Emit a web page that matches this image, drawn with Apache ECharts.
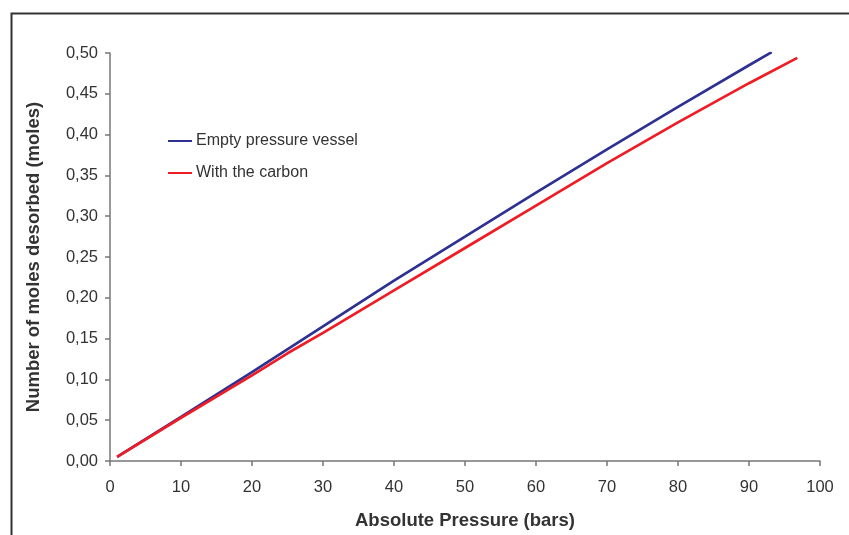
<!DOCTYPE html>
<html>
<head>
<meta charset="utf-8">
<script src="https://cdn.jsdelivr.net/npm/echarts@6/dist/echarts.min.js"></script>
<style>html,body{margin:0;padding:0;background:#fff}#c{width:849px;height:535px}</style>
</head>
<body>
<div id="c"></div>
<script>
const xTicks = [0, 10, 20, 30, 40, 50, 60, 70, 80, 90, 100];
const emptyPressure = [1, 10, 20, 30, 40, 50, 60, 70, 80, 90, 93.2];
const emptyMoles = [0.005, 0.054, 0.109, 0.165, 0.221, 0.275, 0.329, 0.382, 0.434, 0.485, 0.501];
const carbonPressure = [1, 10, 20, 25, 30, 40, 50, 60, 70, 80, 90, 96.8];
const carbonMoles = [0.005, 0.053, 0.105, 0.132, 0.157, 0.209, 0.261, 0.313, 0.365, 0.415, 0.463, 0.494];
const seriesNames = ['Empty pressure vessel', 'With the carbon'];

const chart = echarts.init(document.getElementById('c'), null, {renderer: 'canvas'});
const font = 'Liberation Sans, Arial, Helvetica, sans-serif';
const axisColor = '#777';
chart.setOption({
  animation: false,
  textStyle: {fontFamily: font},
  graphic: [{
    type: 'rect', left: 9, top: 11,
    shape: {width: 900, height: 600},
    style: {fill: 'none', stroke: '#333', lineWidth: 2}, silent: true
  }],
  grid: {left: 110, right: 29, top: 53, bottom: 74, containLabel: false},
  legend: {
    orient: 'vertical', left: 168, top: 133, padding: 0,
    icon: 'rect', itemWidth: 24, itemHeight: 2, itemGap: 16,
    textStyle: {fontSize: 16, color: '#333', fontFamily: font, padding: [0, 0, 0, -1]},
    data: seriesNames
  },
  xAxis: {
    type: 'value', min: 0, max: 100, interval: 10,
    name: 'Absolute Pressure (bars)', nameLocation: 'middle', nameGap: 50,
    nameTextStyle: {fontSize: 18.5, fontWeight: 'bold', color: '#333', fontFamily: font},
    axisLine: {show: true, lineStyle: {color: axisColor, width: 1.5}},
    axisTick: {show: true, length: 5, lineStyle: {color: axisColor, width: 1.5}},
    axisLabel: {fontSize: 16.5, color: '#333', margin: 18, fontFamily: font},
    splitLine: {show: false}
  },
  yAxis: {
    type: 'value', min: 0, max: 0.5, interval: 0.05,
    name: 'Number of moles desorbed (moles)', nameLocation: 'middle', nameGap: 67,
    nameTextStyle: {fontSize: 18.5, fontWeight: 'bold', color: '#333', fontFamily: font},
    axisLine: {show: true, lineStyle: {color: axisColor, width: 1.5}},
    axisTick: {show: true, length: 5, lineStyle: {color: axisColor, width: 1.5}},
    axisLabel: {fontSize: 16.5, color: '#333', margin: 12, fontFamily: font,
      formatter: v => v.toFixed(2).replace('.', ',')},
    splitLine: {show: false}
  },
  series: [
    {
      name: seriesNames[0], type: 'line', showSymbol: false, symbol: 'none',
      data: emptyPressure.map((p, i) => [p, emptyMoles[i]]),
      lineStyle: {color: '#2E3192', width: 2.7}, itemStyle: {color: '#2E3192'}, z: 3
    },
    {
      name: seriesNames[1], type: 'line', showSymbol: false, symbol: 'none',
      data: carbonPressure.map((p, i) => [p, carbonMoles[i]]),
      lineStyle: {color: '#EE1C25', width: 2.7}, itemStyle: {color: '#EE1C25'}, z: 4
    }
  ]
});
</script>
</body>
</html>
